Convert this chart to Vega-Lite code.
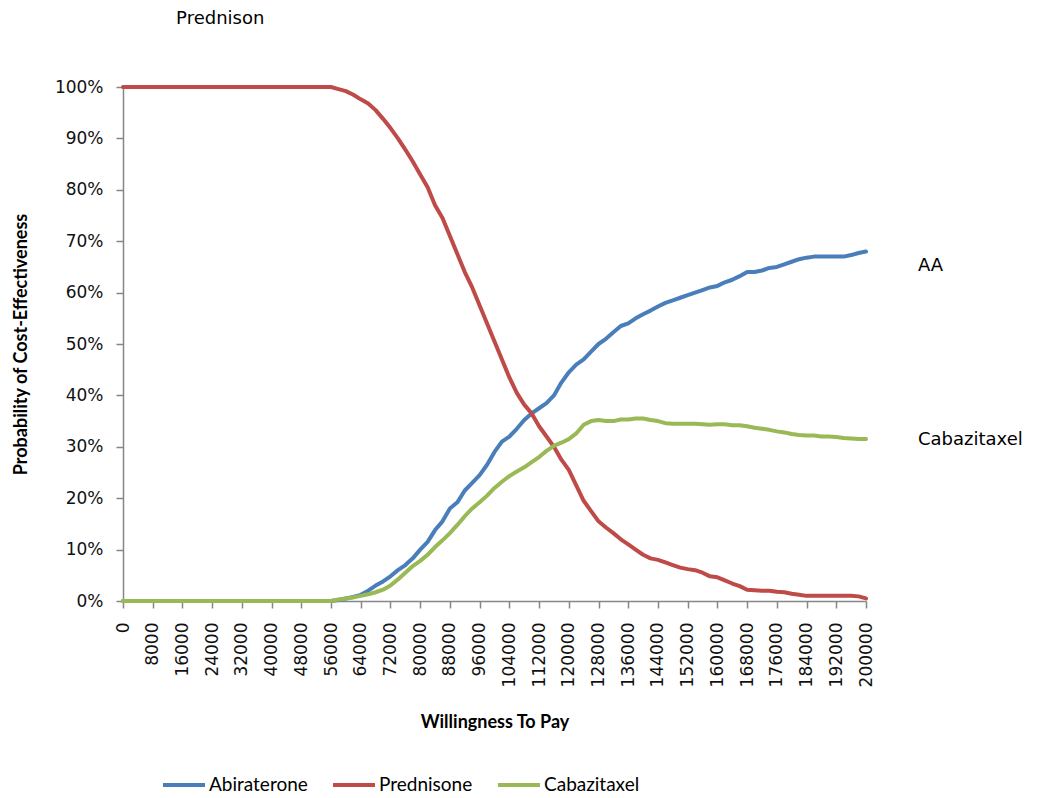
{
  "$schema": "https://vega.github.io/schema/vega-lite/v6.json",
  "width": 743,
  "height": 514,
  "autosize": {"type": "none"},
  "padding": {"left": 123, "top": 87, "right": 176, "bottom": 197},
  "background": "white",
  "config": {
    "view": {"stroke": null},
    "axis": {
      "grid": false,
      "domainColor": "#868686",
      "domainWidth": 1.5,
      "tickColor": "#868686",
      "tickWidth": 1.5,
      "tickSize": 7,
      "labelFont": "DejaVu Sans",
      "labelFontSize": 17,
      "labelColor": "#111111",
      "labelOverlap": false,
      "titleFont": "Lato",
      "titleFontWeight": "bold",
      "titleFontSize": 18,
      "titleColor": "#000000"
    }
  },
  "datasets": {
    "wide": [
      {"wtp": 0, "Abiraterone": 0, "Prednisone": 100, "Cabazitaxel": 0},
      {"wtp": 56000, "Abiraterone": 0, "Prednisone": 100, "Cabazitaxel": 0},
      {"wtp": 58000, "Abiraterone": 0.2, "Prednisone": 99.6, "Cabazitaxel": 0.3},
      {"wtp": 60000, "Abiraterone": 0.5, "Prednisone": 99.2, "Cabazitaxel": 0.5},
      {"wtp": 62000, "Abiraterone": 0.8, "Prednisone": 98.5, "Cabazitaxel": 0.7},
      {"wtp": 64000, "Abiraterone": 1.2, "Prednisone": 97.6, "Cabazitaxel": 1},
      {"wtp": 66000, "Abiraterone": 2, "Prednisone": 96.8, "Cabazitaxel": 1.3},
      {"wtp": 68000, "Abiraterone": 3, "Prednisone": 95.5, "Cabazitaxel": 1.7},
      {"wtp": 70000, "Abiraterone": 3.8, "Prednisone": 93.8, "Cabazitaxel": 2.2},
      {"wtp": 72000, "Abiraterone": 4.8, "Prednisone": 92, "Cabazitaxel": 3},
      {"wtp": 74000, "Abiraterone": 6, "Prednisone": 90, "Cabazitaxel": 4.2},
      {"wtp": 76000, "Abiraterone": 7, "Prednisone": 87.8, "Cabazitaxel": 5.5},
      {"wtp": 78000, "Abiraterone": 8.3, "Prednisone": 85.5, "Cabazitaxel": 6.8},
      {"wtp": 80000, "Abiraterone": 10, "Prednisone": 83, "Cabazitaxel": 7.8},
      {"wtp": 82000, "Abiraterone": 11.5, "Prednisone": 80.5, "Cabazitaxel": 9},
      {"wtp": 84000, "Abiraterone": 13.8, "Prednisone": 77, "Cabazitaxel": 10.5},
      {"wtp": 86000, "Abiraterone": 15.5, "Prednisone": 74.5, "Cabazitaxel": 11.8},
      {"wtp": 88000, "Abiraterone": 18, "Prednisone": 71, "Cabazitaxel": 13.2},
      {"wtp": 90000, "Abiraterone": 19.2, "Prednisone": 67.5, "Cabazitaxel": 14.8},
      {"wtp": 92000, "Abiraterone": 21.5, "Prednisone": 64, "Cabazitaxel": 16.5},
      {"wtp": 94000, "Abiraterone": 23, "Prednisone": 61, "Cabazitaxel": 18},
      {"wtp": 96000, "Abiraterone": 24.5, "Prednisone": 57.5, "Cabazitaxel": 19.2},
      {"wtp": 98000, "Abiraterone": 26.5, "Prednisone": 54, "Cabazitaxel": 20.5},
      {"wtp": 100000, "Abiraterone": 29, "Prednisone": 50.5, "Cabazitaxel": 22},
      {"wtp": 102000, "Abiraterone": 31, "Prednisone": 47, "Cabazitaxel": 23.2},
      {"wtp": 104000, "Abiraterone": 32, "Prednisone": 43.5, "Cabazitaxel": 24.3},
      {"wtp": 106000, "Abiraterone": 33.5, "Prednisone": 40.5, "Cabazitaxel": 25.2},
      {"wtp": 108000, "Abiraterone": 35.2, "Prednisone": 38.2, "Cabazitaxel": 26},
      {"wtp": 110000, "Abiraterone": 36.5, "Prednisone": 36.5, "Cabazitaxel": 27},
      {"wtp": 112000, "Abiraterone": 37.5, "Prednisone": 34, "Cabazitaxel": 28},
      {"wtp": 114000, "Abiraterone": 38.5, "Prednisone": 32, "Cabazitaxel": 29.2},
      {"wtp": 116000, "Abiraterone": 40, "Prednisone": 30, "Cabazitaxel": 30.2},
      {"wtp": 118000, "Abiraterone": 42.5, "Prednisone": 27.5, "Cabazitaxel": 30.8},
      {"wtp": 120000, "Abiraterone": 44.5, "Prednisone": 25.5, "Cabazitaxel": 31.5},
      {"wtp": 122000, "Abiraterone": 46, "Prednisone": 22.5, "Cabazitaxel": 32.6},
      {"wtp": 124000, "Abiraterone": 47, "Prednisone": 19.5, "Cabazitaxel": 34.3},
      {"wtp": 126000, "Abiraterone": 48.5, "Prednisone": 17.5, "Cabazitaxel": 35},
      {"wtp": 128000, "Abiraterone": 50, "Prednisone": 15.5, "Cabazitaxel": 35.2},
      {"wtp": 130000, "Abiraterone": 51, "Prednisone": 14.3, "Cabazitaxel": 35},
      {"wtp": 132000, "Abiraterone": 52.3, "Prednisone": 13.2, "Cabazitaxel": 35},
      {"wtp": 134000, "Abiraterone": 53.5, "Prednisone": 12, "Cabazitaxel": 35.3},
      {"wtp": 136000, "Abiraterone": 54, "Prednisone": 11, "Cabazitaxel": 35.3},
      {"wtp": 138000, "Abiraterone": 55, "Prednisone": 10, "Cabazitaxel": 35.5},
      {"wtp": 140000, "Abiraterone": 55.8, "Prednisone": 9, "Cabazitaxel": 35.5},
      {"wtp": 142000, "Abiraterone": 56.5, "Prednisone": 8.3, "Cabazitaxel": 35.2},
      {"wtp": 144000, "Abiraterone": 57.3, "Prednisone": 8, "Cabazitaxel": 35},
      {"wtp": 146000, "Abiraterone": 58, "Prednisone": 7.5, "Cabazitaxel": 34.6},
      {"wtp": 148000, "Abiraterone": 58.5, "Prednisone": 7, "Cabazitaxel": 34.5},
      {"wtp": 150000, "Abiraterone": 59, "Prednisone": 6.5, "Cabazitaxel": 34.5},
      {"wtp": 152000, "Abiraterone": 59.5, "Prednisone": 6.2, "Cabazitaxel": 34.5},
      {"wtp": 154000, "Abiraterone": 60, "Prednisone": 6, "Cabazitaxel": 34.5},
      {"wtp": 156000, "Abiraterone": 60.5, "Prednisone": 5.5, "Cabazitaxel": 34.4},
      {"wtp": 158000, "Abiraterone": 61, "Prednisone": 4.8, "Cabazitaxel": 34.3},
      {"wtp": 160000, "Abiraterone": 61.3, "Prednisone": 4.6, "Cabazitaxel": 34.4},
      {"wtp": 162000, "Abiraterone": 62, "Prednisone": 4, "Cabazitaxel": 34.4},
      {"wtp": 164000, "Abiraterone": 62.5, "Prednisone": 3.4, "Cabazitaxel": 34.2},
      {"wtp": 166000, "Abiraterone": 63.2, "Prednisone": 2.9, "Cabazitaxel": 34.2},
      {"wtp": 168000, "Abiraterone": 64, "Prednisone": 2.2, "Cabazitaxel": 34},
      {"wtp": 170000, "Abiraterone": 64, "Prednisone": 2.1, "Cabazitaxel": 33.7},
      {"wtp": 172000, "Abiraterone": 64.3, "Prednisone": 2, "Cabazitaxel": 33.5},
      {"wtp": 174000, "Abiraterone": 64.8, "Prednisone": 2, "Cabazitaxel": 33.3},
      {"wtp": 176000, "Abiraterone": 65, "Prednisone": 1.8, "Cabazitaxel": 33},
      {"wtp": 178000, "Abiraterone": 65.5, "Prednisone": 1.7, "Cabazitaxel": 32.8},
      {"wtp": 180000, "Abiraterone": 66, "Prednisone": 1.4, "Cabazitaxel": 32.5},
      {"wtp": 182000, "Abiraterone": 66.5, "Prednisone": 1.2, "Cabazitaxel": 32.3},
      {"wtp": 184000, "Abiraterone": 66.8, "Prednisone": 1, "Cabazitaxel": 32.2},
      {"wtp": 186000, "Abiraterone": 67, "Prednisone": 1, "Cabazitaxel": 32.2},
      {"wtp": 188000, "Abiraterone": 67, "Prednisone": 1, "Cabazitaxel": 32},
      {"wtp": 190000, "Abiraterone": 67, "Prednisone": 1, "Cabazitaxel": 32},
      {"wtp": 192000, "Abiraterone": 67, "Prednisone": 1, "Cabazitaxel": 31.9},
      {"wtp": 194000, "Abiraterone": 67, "Prednisone": 1, "Cabazitaxel": 31.7},
      {"wtp": 196000, "Abiraterone": 67.3, "Prednisone": 1, "Cabazitaxel": 31.6},
      {"wtp": 198000, "Abiraterone": 67.7, "Prednisone": 0.9, "Cabazitaxel": 31.5},
      {"wtp": 200000, "Abiraterone": 68, "Prednisone": 0.5, "Cabazitaxel": 31.5}
    ],
    "notes": [
      {"wtp": 14300, "p": 113.2, "label": "Prednison"},
      {"wtp": 214000, "p": 65.2, "label": "AA"},
      {"wtp": 214000, "p": 31.3, "label": "Cabazitaxel"}
    ]
  },
  "encoding": {
    "x": {
      "field": "wtp", "type": "quantitative",
      "scale": {"domain": [0, 200000], "nice": false},
      "axis": {
        "title": "Willingness To Pay",
        "values": [0, 8000, 16000, 24000, 32000, 40000, 48000, 56000, 64000, 72000, 80000, 88000, 96000, 104000, 112000, 120000, 128000, 136000, 144000, 152000, 160000, 168000, 176000, 184000, 192000, 200000],
        "format": "d",
        "labelAngle": -90,
        "labelPadding": 14,
        "labelOverlap": false,
        "labelFlush": false,
        "titlePadding": 27
      }
    },
    "y": {
      "field": "p", "type": "quantitative",
      "scale": {"domain": [0, 100], "nice": false},
      "axis": {
        "title": "Probability of Cost-Effectiveness",
        "values": [0, 10, 20, 30, 40, 50, 60, 70, 80, 90, 100],
        "labelExpr": "datum.value + '%'",
        "labelPadding": 13,
        "labelFlush": false,
        "labelOverlap": false,
        "titlePadding": 24
      }
    }
  },
  "layer": [
    {
      "data": {"name": "wide"},
      "transform": [{"fold": ["Abiraterone", "Prednisone", "Cabazitaxel"], "as": ["drug", "p"]}],
      "mark": {"type": "line", "strokeWidth": 4, "strokeCap": "round", "strokeJoin": "round"},
      "encoding": {
        "color": {
          "field": "drug", "type": "nominal",
          "scale": {"domain": ["Abiraterone", "Prednisone", "Cabazitaxel"], "range": ["#4A7EBB", "#BE4B48", "#98B954"]},
          "legend": {
            "title": null,
            "orient": "none",
            "legendX": 38,
            "legendY": 675,
            "direction": "horizontal",
            "symbolType": "stroke",
            "symbolSize": 1764,
            "symbolStrokeWidth": 4,
            "labelFont": "Lato",
            "labelFontSize": 19,
            "labelColor": "#000000",
            "labelOffset": 2,
            "columnPadding": 17
          }
        },
        "order": {"field": "wtp", "type": "quantitative"}
      }
    },
    {
      "data": {"name": "notes"},
      "mark": {"type": "text", "align": "left", "baseline": "middle", "font": "DejaVu Sans", "fontSize": 18, "color": "#000000"},
      "encoding": {
        "text": {"field": "label"}
      }
    }
  ]
}
